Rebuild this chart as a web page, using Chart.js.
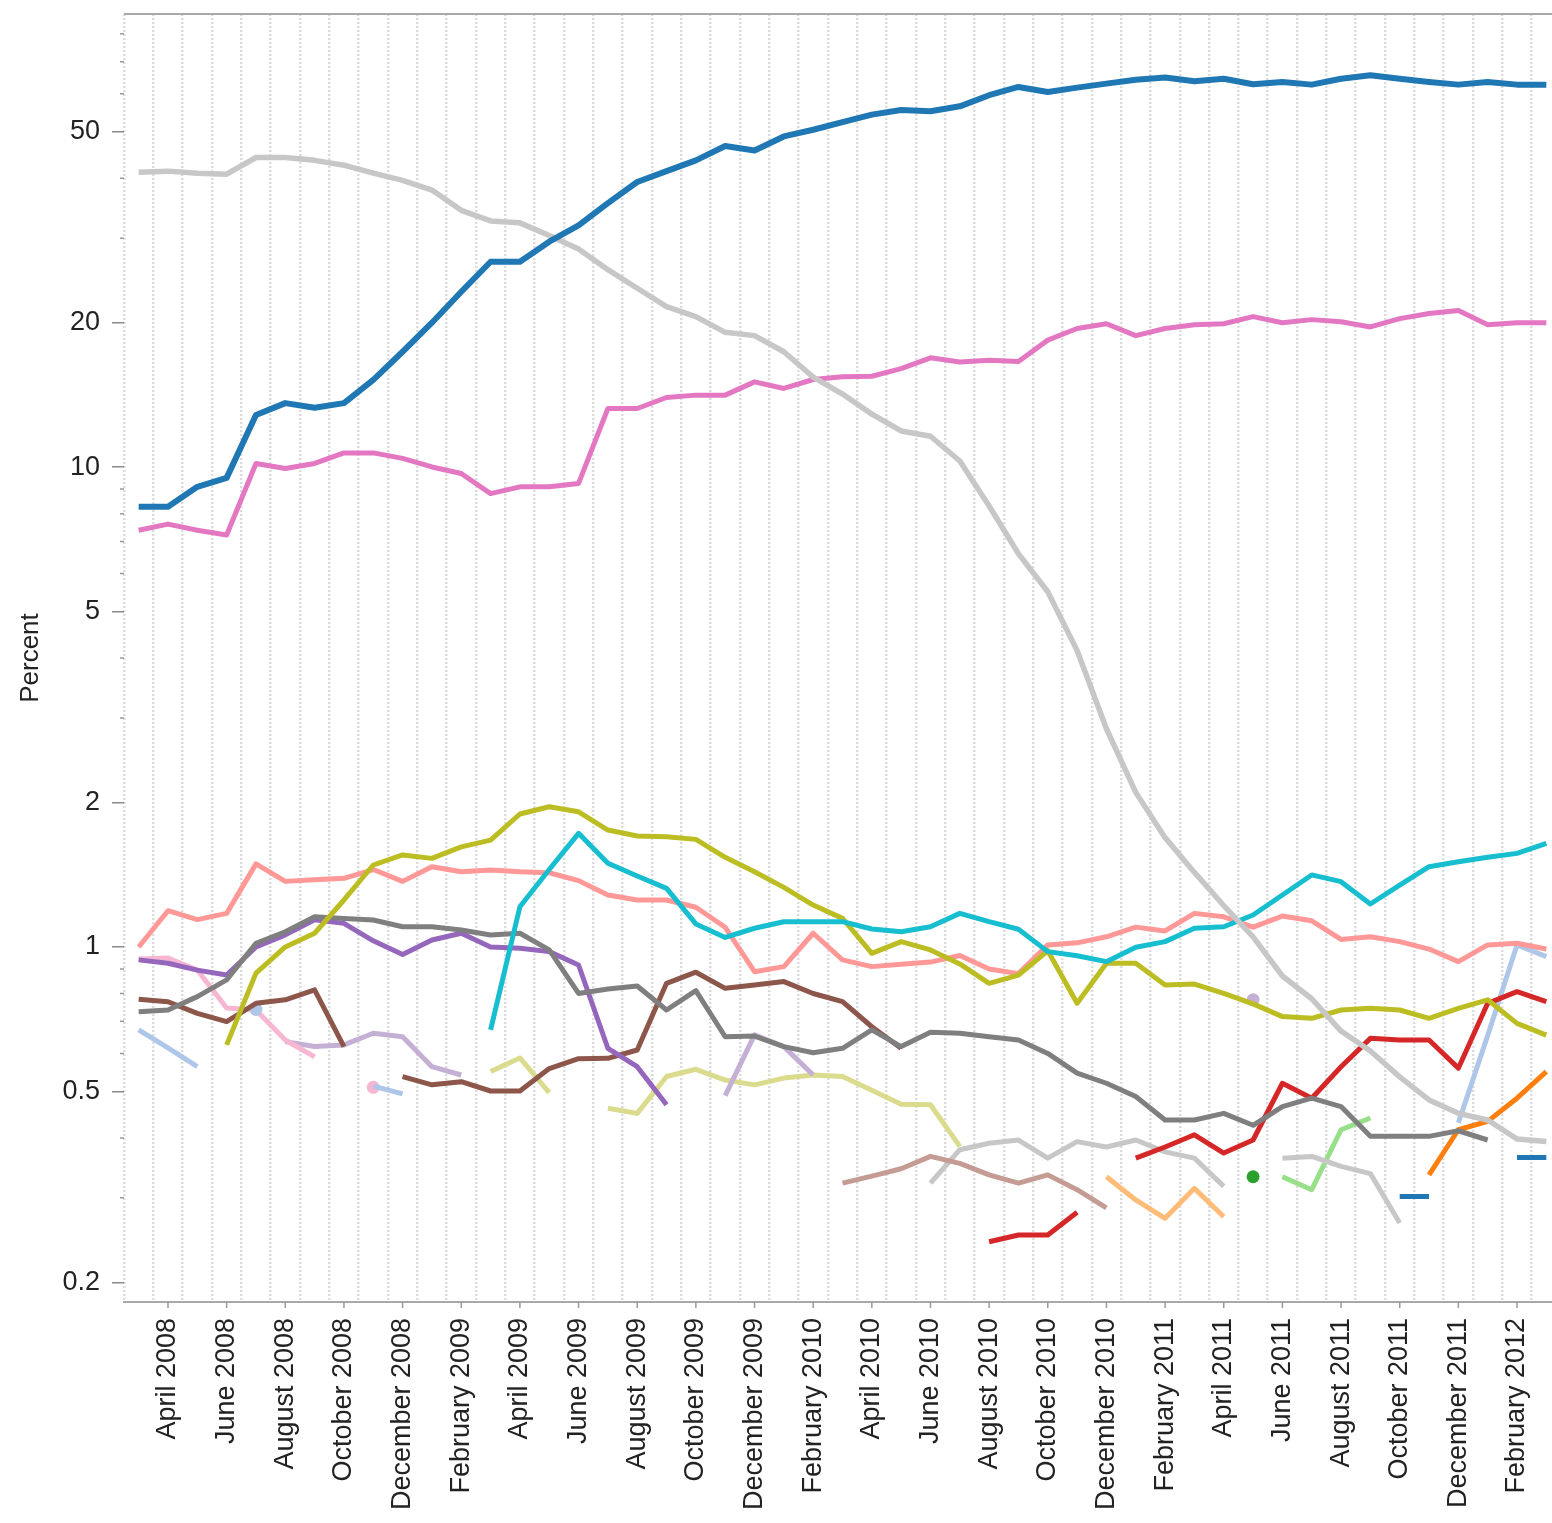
<!DOCTYPE html>
<html>
<head>
<meta charset="utf-8">
<title>Percent by month</title>
<script src="https://cdn.jsdelivr.net/npm/chart.js@4.4.1/dist/chart.umd.min.js"></script>
<style>
  html, body { margin: 0; padding: 0; background: #fff; overflow: hidden; }
  #wrap { position: relative; width: 1561px; height: 1523px; }
</style>
</head>
<body>
<div id="wrap"><canvas id="chartOne"></canvas></div>
<script>
var months = [
  'March 2008', 'April 2008', 'May 2008', 'June 2008', 'July 2008', 'August 2008',
  'September 2008', 'October 2008', 'November 2008', 'December 2008',
  'January 2009', 'February 2009', 'March 2009', 'April 2009', 'May 2009', 'June 2009',
  'July 2009', 'August 2009', 'September 2009', 'October 2009', 'November 2009', 'December 2009',
  'January 2010', 'February 2010', 'March 2010', 'April 2010', 'May 2010', 'June 2010',
  'July 2010', 'August 2010', 'September 2010', 'October 2010', 'November 2010', 'December 2010',
  'January 2011', 'February 2011', 'March 2011', 'April 2011', 'May 2011', 'June 2011',
  'July 2011', 'August 2011', 'September 2011', 'October 2011', 'November 2011', 'December 2011',
  'January 2012', 'February 2012', 'March 2012'
];

// labelled ticks on the log axis, the rest only get a short mark
var yTickLabels = [0.2, 0.5, 1, 2, 5, 10, 20, 50];
var yMinorTicks = [0.3, 0.4, 0.6, 0.7, 0.8, 0.9, 3, 4, 6, 7, 8, 9, 30, 40, 60, 70, 80];

// puts a run of monthly values at its starting month, nulls elsewhere
const fromMonth = (start, values) => months.map((m, i) => {
  var v = values[i - start];
  return v === undefined ? null : v;
});

var blue = [8.27, 8.27, 9.1, 9.5, 12.85, 13.6, 13.3, 13.6, 15.2, 17.4,
  20.0, 23.2, 26.8, 26.8, 29.5, 31.9, 35.5, 39.3, 41.4, 43.6,
  46.7, 45.7, 48.9, 50.5, 52.4, 54.3, 55.5, 55.2, 56.5, 59.6,
  62.0, 60.5, 61.8, 63.0, 64.2, 64.9, 63.7, 64.5, 62.8, 63.5,
  62.7, 64.5, 65.6, 64.5, 63.5, 62.7, 63.5, 62.7, 62.7];
var gray = [41.2, 41.4, 41.0, 40.8, 44.2, 44.2, 43.6, 42.6, 41.0, 39.6,
  37.8, 34.3, 32.6, 32.3, 30.4, 28.5, 25.8, 23.6, 21.6, 20.6,
  19.1, 18.8, 17.4, 15.4, 14.2, 12.9, 11.9, 11.6, 10.3, 8.3,
  6.6, 5.5, 4.15, 2.85, 2.1, 1.69, 1.43, 1.22, 1.05, 0.87,
  0.78, 0.668, 0.607, 0.536, 0.48, 0.45, 0.436, 0.398, 0.393];
var pink = [7.39, 7.61, 7.39, 7.22, 10.18, 9.94, 10.18, 10.71, 10.71, 10.43,
  10.01, 9.70, 8.81, 9.10, 9.10, 9.25, 13.25, 13.25, 13.97, 14.13,
  14.13, 15.06, 14.59, 15.23, 15.43, 15.47, 16.05, 16.9, 16.57, 16.7,
  16.6, 18.4, 19.45, 19.9, 18.8, 19.45, 19.8, 19.9, 20.6, 20.0,
  20.3, 20.1, 19.6, 20.4, 20.9, 21.2, 19.8, 20.0, 20.0];
var salmon = [1.0, 1.19, 1.14, 1.175, 1.49, 1.37, 1.38, 1.39, 1.45, 1.37,
  1.47, 1.435, 1.447, 1.435, 1.428, 1.375, 1.283, 1.253, 1.253, 1.21,
  1.099, 0.888, 0.91, 1.068, 0.94, 0.91, 0.92, 0.93, 0.96, 0.9,
  0.88, 1.01, 1.02, 1.05, 1.10, 1.08, 1.175, 1.156, 1.10, 1.16,
  1.134, 1.037, 1.05, 1.026, 0.99, 0.932, 1.01, 1.018, 0.99];
var olive = fromMonth(3, [0.625, 0.882, 1.0, 1.068, 1.253, 1.482, 1.555,
  1.53, 1.617, 1.67, 1.893, 1.96, 1.913, 1.753, 1.703, 1.698, 1.676,
  1.538, 1.435, 1.331, 1.223, 1.147, 0.97, 1.026, 0.986, 0.922, 0.84,
  0.874, 0.982, 0.763, 0.925, 0.925, 0.833, 0.837, 0.80, 0.761, 0.716,
  0.71, 0.739, 0.745, 0.739, 0.71, 0.745, 0.776, 0.693, 0.655]);
var cyan = fromMonth(12, [0.672, 1.213, 1.45, 1.725, 1.494, 1.406, 1.325, 1.117,
  1.047, 1.094, 1.129, 1.129, 1.129, 1.09, 1.076, 1.102, 1.175, 1.129,
  1.089, 0.978, 0.959, 0.932, 0.999, 1.026, 1.094, 1.102, 1.166, 1.283,
  1.413, 1.368, 1.229, 1.346, 1.47, 1.505, 1.538, 1.567, 1.644]);
var darkGray = fromMonth(0, [0.733, 0.739, 0.788, 0.854, 1.018, 1.076, 1.156, 1.147, 1.138, 1.102,
  1.102, 1.085, 1.059, 1.068, 0.986, 0.80, 0.817, 0.829, 0.739, 0.811,
  0.65, 0.652, 0.62, 0.602, 0.615, 0.672, 0.62, 0.664, 0.661, 0.65,
  0.64, 0.6, 0.546, 0.52, 0.488, 0.436, 0.436, 0.45, 0.425, 0.465,
  0.484, 0.465, 0.403, 0.403, 0.403, 0.414, 0.396]);
var purple = fromMonth(0, [0.94, 0.925, 0.895, 0.874, 1.0, 1.06, 1.14, 1.12, 1.03, 0.965,
  1.034, 1.068, 1.0, 0.994, 0.978, 0.917, 0.615, 0.563, 0.469]);
var brown = fromMonth(0, [0.778, 0.769, 0.727, 0.699, 0.763, 0.776, 0.814, 0.62, null, 0.537,
  0.516, 0.524, 0.501, 0.501, 0.558, 0.585, 0.586, 0.61, 0.84, 0.886,
  0.82, 0.833, 0.847, 0.80, 0.769, 0.682, 0.615]);
var lightBlue = fromMonth(0, [0.672, 0.616, 0.563, null, 0.741, null, null, null, 0.513, 0.494,
  null, null, null, null, null, null, null, null, null, null,
  null, null, null, null, null, null, null, null, null, null,
  null, null, null, null, null, null, null, null, null, null,
  null, null, null, null, null, 0.43, 0.654, 1.01, 0.955]);
var lightPink = fromMonth(0, [0.944, 0.948, 0.895, 0.746, 0.739, 0.64, 0.59, null, 0.51]);
var lightPurple = fromMonth(5, [0.635, 0.62, 0.625, 0.661, 0.65, 0.563, 0.541,
  null, null, null, null, null, null, null, null,
  0.49, 0.656, 0.62, 0.541,
  null, null, null, null, null, null, null, null, null, null, null, null, null, null,
  0.776]);
var lightOlive = fromMonth(12, [0.55, 0.587, 0.497, null, 0.461, 0.45, 0.537, 0.556,
  0.528, 0.516, 0.533, 0.541, 0.537, 0.503, 0.47, 0.469, 0.384]);
var rosy = fromMonth(24, [0.322, 0.333, 0.345, 0.366, 0.354, 0.335, 0.322, 0.335, 0.312, 0.286]);
var lightGray = fromMonth(27, [0.322, 0.378, 0.39, 0.396, 0.363, 0.393, 0.383, 0.396, 0.374, 0.363,
  0.317, null, 0.363, 0.366, 0.349, 0.337, 0.266]);
var red = fromMonth(29, [0.243, 0.251, 0.251, 0.28, null, 0.363, 0.383, 0.406, 0.372, 0.396,
  0.52, 0.484, 0.563, 0.645, 0.64, 0.64, 0.559, 0.763, 0.807, 0.769]);
var lightOrange = fromMonth(33, [0.332, 0.297, 0.272, 0.314, 0.274]);
var green = fromMonth(38, [0.332]);
var lightGreen = fromMonth(39, [0.332, 0.312, 0.416, 0.44]);
var blueShort = fromMonth(43, [0.302, 0.302, null, null, 0.364, 0.364]);
var orange = fromMonth(44, [0.335, 0.416, 0.433, 0.484, 0.55]);

const font = 'Liberation Sans, Arial, Helvetica, sans-serif';

// a value with no neighbours would not show as a line, so give it a dot
const loneDot = (ctx) => {
  var d = ctx.dataset.data, i = ctx.dataIndex;
  return d[i] != null && d[i - 1] == null && d[i + 1] == null ? 6.5 : 0;
};

const line = (data, color, width) => ({
  data: data,
  borderColor: color,
  backgroundColor: color,
  borderWidth: width || 5,
  pointRadius: loneDot,
  pointHoverRadius: 0,
  pointBorderWidth: 0,
  borderJoinStyle: 'round',
  tension: 0,
  spanGaps: false
});

// frame line on top, short minor marks on y, tick marks under labelled months
const frameAndTicks = {
  id: 'frameAndTicks',
  afterDraw(chart) {
    const { ctx, chartArea, scales } = chart;
    ctx.save();
    ctx.strokeStyle = '#a8a8a8';
    ctx.lineWidth = 2;
    ctx.beginPath();
    ctx.moveTo(chartArea.left, chartArea.top);
    ctx.lineTo(chartArea.right, chartArea.top);
    ctx.stroke();

    ctx.strokeStyle = '#999';
    ctx.lineWidth = 1.5;
    ctx.beginPath();
    yMinorTicks.forEach((v) => {
      var y = scales.y.getPixelForValue(v);
      ctx.moveTo(chartArea.left - 4, y);
      ctx.lineTo(chartArea.left, y);
    });
    months.forEach((m, i) => {
      if (i % 2 === 1) {
        var x = scales.x.getPixelForValue(i);
        ctx.moveTo(x, chartArea.bottom);
        ctx.lineTo(x, chartArea.bottom + 6);
      }
    });
    ctx.stroke();
    ctx.restore();
  }
};

var chartOne = document.getElementById('chartOne');
var myChart = new Chart(chartOne, {
  type: 'line',
  data: {
    labels: months,
    datasets: [
      line(blue, '#1f77b4', 6),
      line(gray, '#c7c7c7', 5.5),
      line(pink, '#e377c2', 5),
      line(cyan, '#17becf'),
      line(olive, '#bcbd22'),
      line(salmon, '#ff9896'),
      line(darkGray, '#7f7f7f'),
      line(purple, '#9467bd'),
      line(brown, '#8c564b'),
      line(red, '#d62728'),
      line(orange, '#ff7f0e'),
      line(lightBlue, '#aec7e8'),
      line(lightPink, '#f7b6d2'),
      line(lightPurple, '#c5b0d5'),
      line(lightOlive, '#dbdb8d'),
      line(rosy, '#c49c94'),
      line(lightGray, '#c7c7c7'),
      line(lightOrange, '#ffbb78'),
      line(green, '#2ca02c'),
      line(lightGreen, '#98df8a'),
      line(blueShort, '#1f77b4', 5)
    ]
  },
  options: {
    responsive: true,
    maintainAspectRatio: false,
    animation: false,
    layout: { padding: { top: 14, left: 0, right: 0, bottom: 0 } },
    plugins: {
      legend: { display: false },
      tooltip: { enabled: false }
    },
    scales: {
      x: {
        type: 'category',
        offset: true,
        afterFit: (scale) => {
          scale.height = 221;
          scale.paddingLeft = 0;
          scale.paddingRight = 0;
        },
        border: { display: true, color: '#a8a8a8', width: 2, dash: [2, 2] },
        grid: { offset: true, drawTicks: false, color: '#dcdcdc', lineWidth: 2.5 },
        ticks: {
          autoSkip: false,
          minRotation: 90,
          maxRotation: 90,
          padding: 16,
          color: '#222',
          font: { family: font, size: 27 },
          callback: (v, i) => (i % 2 === 1 ? months[i] : '')
        }
      },
      y: {
        type: 'logarithmic',
        min: 0.182,
        max: 88,
        afterBuildTicks: (scale) => {
          scale.ticks = yTickLabels.concat(yMinorTicks).sort((a, b) => a - b).map((v) => ({ value: v }));
        },
        afterFit: (scale) => {
          scale.width = 124;
          scale.paddingTop = 0;
          scale.paddingBottom = 0;
        },
        border: { display: false },
        grid: {
          drawOnChartArea: false,
          tickLength: 12,
          lineWidth: 1.5,
          color: (ctx) => (ctx.tick && yTickLabels.includes(ctx.tick.value) ? '#8a8a8a' : 'rgba(0,0,0,0)')
        },
        ticks: {
          autoSkip: false,
          padding: 12,
          color: '#222',
          font: { family: font, size: 27 },
          callback: (v) => (yTickLabels.includes(v) ? String(v) : '')
        },
        title: {
          display: true,
          text: 'Percent',
          color: '#222',
          font: { family: font, size: 26 },
          padding: { top: 15, bottom: 0 }
        }
      }
    }
  },
  plugins: [frameAndTicks]
});
</script>
</body>
</html>
